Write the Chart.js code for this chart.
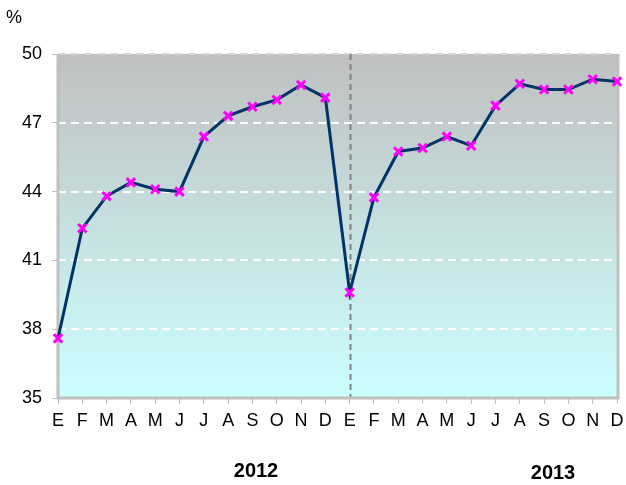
<!DOCTYPE html>
<html>
<head>
<meta charset="utf-8">
<script src="https://cdn.jsdelivr.net/npm/chart.js@4"></script>
<style>
  body { margin: 0; background: #fff; }
  canvas { display: block; }
</style>
</head>
<body>
<canvas id="grafico" width="626" height="485"></canvas>
<script>
// Datos del grafico
const meses = ['E', 'F', 'M', 'A', 'M', 'J', 'J', 'A', 'S', 'O', 'N', 'D',
               'E', 'F', 'M', 'A', 'M', 'J', 'J', 'A', 'S', 'O', 'N', 'D'];
const valores = [37.6, 42.4, 43.8, 44.4, 44.1, 44.0, 46.4, 47.3, 47.7, 48.0, 48.65, 48.1,
                 39.6, 43.75, 45.75, 45.9, 46.4, 46.0, 47.75, 48.7, 48.45, 48.45, 48.9, 48.8];
const ticksY = [35, 38, 41, 44, 47, 50];
const anos = ['2012', '2013'];
const inicio2013 = 12;

// fondo degradado, grilla punteada y bordes
const fondoPlugin = {
    id: 'fondo',
    beforeDatasetsDraw(chart) {
        const { ctx, chartArea: a, scales: { x, y } } = chart;
        ctx.save();
        const grad = ctx.createLinearGradient(0, a.top, 0, a.bottom);
        grad.addColorStop(0, '#c0c0c0');
        grad.addColorStop(1, '#ccffff');
        ctx.fillStyle = grad;
        ctx.fillRect(a.left, a.top, a.right - a.left, a.bottom - a.top);

        ctx.lineWidth = 2;
        ctx.setLineDash([8, 5]);
        ticksY.forEach(v => {
            if (v === ticksY[0]) return;
            const py = Math.round(y.getPixelForValue(v));
            ctx.strokeStyle = v === ticksY[ticksY.length - 1] ? '#d6d6d6' : '#ffffff';
            ctx.beginPath();
            ctx.moveTo(a.left, py);
            ctx.lineTo(a.right, py);
            ctx.stroke();
        });

        // linea vertical que separa los anos
        const px = Math.round(x.getPixelForValue(inicio2013)) + 0.5;
        ctx.strokeStyle = '#808080';
        ctx.setLineDash([6, 4]);
        ctx.beginPath();
        ctx.moveTo(px, a.top);
        ctx.lineTo(px, a.bottom);
        ctx.stroke();

        ctx.setLineDash([]);
        ctx.strokeStyle = '#c0c0c0';
        ctx.lineWidth = 3;
        ctx.beginPath();
        ctx.moveTo(a.left, a.top);
        ctx.lineTo(a.left, a.bottom);
        ctx.lineTo(a.right + 1, a.bottom);
        ctx.lineTo(a.right + 1, a.top);
        ctx.stroke();
        ctx.restore();
    },
    afterDraw(chart) {
        const { ctx } = chart;
        ctx.save();
        ctx.fillStyle = '#000';
        ctx.textBaseline = 'middle';
        ctx.font = '18px "Liberation Sans", Arial, sans-serif';
        ctx.textAlign = 'left';
        ctx.fillText('%', 6, 18);
        ctx.font = 'bold 20px "Liberation Sans", Arial, sans-serif';
        ctx.textAlign = 'center';
        ctx.fillText(anos[0], 256, 471);
        ctx.fillText(anos[1], 553, 473);
        ctx.restore();
    }
};

const ctx = document.getElementById('grafico').getContext('2d');
new Chart(ctx, {
    type: 'line',
    data: {
        labels: meses,
        datasets: [{
            data: valores,
            borderColor: '#003366',
            borderWidth: 3,
            pointStyle: 'crossRot',
            pointRadius: 6,
            pointBorderColor: '#ff00ff',
            pointBorderWidth: 3,
            pointHoverRadius: 6,
            tension: 0,
            clip: false
        }]
    },
    options: {
        responsive: false,
        animation: false,
        layout: { padding: { top: 54, right: 9, left: 0, bottom: 0 } },
        plugins: {
            legend: { display: false },
            tooltip: { enabled: false }
        },
        scales: {
            x: {
                offset: false,
                afterFit: s => { s.height = 87; s.paddingLeft = 0; s.paddingRight = 0; },
                grid: { drawOnChartArea: false, tickLength: 6, tickColor: '#c0c0c0', offset: false },
                border: { display: false },
                ticks: {
                    autoSkip: false,
                    maxRotation: 0,
                    padding: 6,
                    color: '#000',
                    font: { family: '"Liberation Sans", Arial, sans-serif', size: 18 }
                }
            },
            y: {
                min: 35,
                max: 50,
                afterFit: s => { s.width = 58; },
                afterBuildTicks: s => { s.ticks = ticksY.map(v => ({ value: v })); },
                grid: { drawOnChartArea: false, tickLength: 6, tickColor: '#c0c0c0' },
                border: { display: false },
                ticks: {
                    padding: 10,
                    color: '#000',
                    font: { family: '"Liberation Sans", Arial, sans-serif', size: 18 }
                }
            }
        }
    },
    plugins: [fondoPlugin]
});
</script>
</body>
</html>
